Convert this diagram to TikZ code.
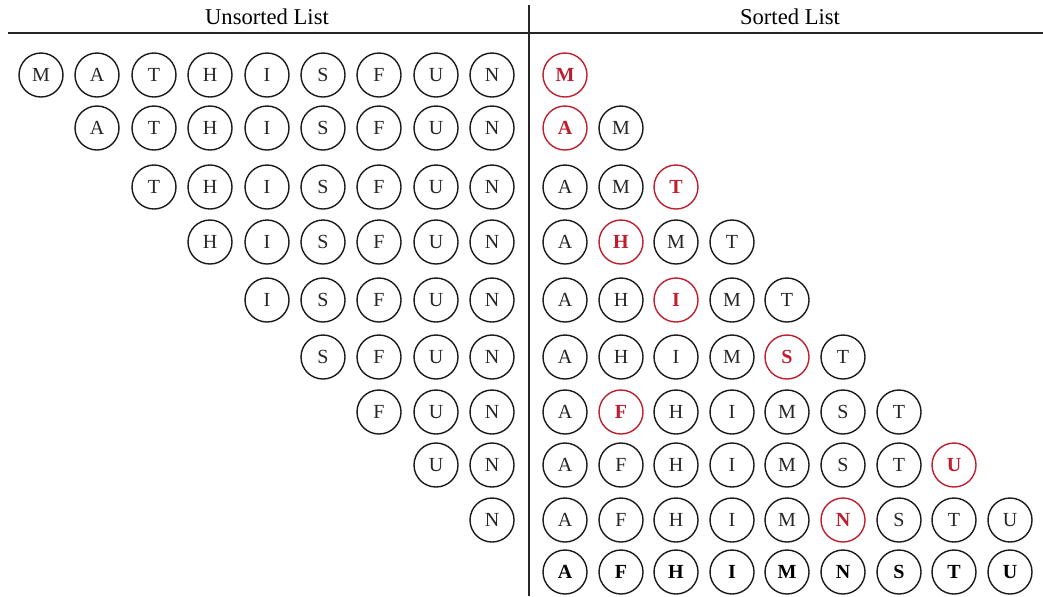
\documentclass[tikz,border=0pt]{standalone}
\usepackage{fontspec}
\setmainfont{Liberation Serif}
\usepackage{tikz}
\definecolor{pickred}{RGB}{190,30,45}

\begin{document}
\begin{tikzpicture}[x=0.5pt,y=-0.5pt,
  letter/.style={circle,draw=black!90,text=black!85,line width=0.7pt,minimum size=22pt,inner sep=0pt,font=\fontsize{10}{12}\selectfont},
  picked/.style={letter,draw=pickred,text=pickred,font=\fontsize{10}{12}\selectfont\bfseries},
  final/.style={letter,text=black,font=\fontsize{10}{12}\selectfont\bfseries},
  head/.style={font=\fontsize{11.3}{13}\selectfont},
  rule/.style={draw=black!85,line width=0.8pt}]
\useasboundingbox (0,0) rectangle (1043,596);
% headings and rules
\node[head] (h-unsorted) at (267,17) {Unsorted List};
\node[head] (h-sorted) at (790,17) {Sorted List};
\coordinate (rule-l) at (8,33);
\coordinate (rule-r) at (1043,33);
\coordinate (split-t) at (529,5);
\coordinate (split-b) at (529,596);
\draw[rule,line width=1pt] (rule-l) -- (rule-r);
\draw[rule] (split-t) -- (split-b);
% unsorted list
\node[letter] (u1-1) at (41,75) {M};
\node[letter] (u1-2) at (97,75) {A};
\node[letter] (u1-3) at (154,75) {T};
\node[letter] (u1-4) at (210,75) {H};
\node[letter] (u1-5) at (267,75) {I};
\node[letter] (u1-6) at (323,75) {S};
\node[letter] (u1-7) at (379,75) {F};
\node[letter] (u1-8) at (436,75) {U};
\node[letter] (u1-9) at (492,75) {N};
\node[letter] (u2-2) at (97,128) {A};
\node[letter] (u2-3) at (154,128) {T};
\node[letter] (u2-4) at (210,128) {H};
\node[letter] (u2-5) at (267,128) {I};
\node[letter] (u2-6) at (323,128) {S};
\node[letter] (u2-7) at (379,128) {F};
\node[letter] (u2-8) at (436,128) {U};
\node[letter] (u2-9) at (492,128) {N};
\node[letter] (u3-3) at (154,187) {T};
\node[letter] (u3-4) at (210,187) {H};
\node[letter] (u3-5) at (267,187) {I};
\node[letter] (u3-6) at (323,187) {S};
\node[letter] (u3-7) at (379,187) {F};
\node[letter] (u3-8) at (436,187) {U};
\node[letter] (u3-9) at (492,187) {N};
\node[letter] (u4-4) at (210,242) {H};
\node[letter] (u4-5) at (267,242) {I};
\node[letter] (u4-6) at (323,242) {S};
\node[letter] (u4-7) at (379,242) {F};
\node[letter] (u4-8) at (436,242) {U};
\node[letter] (u4-9) at (492,242) {N};
\node[letter] (u5-5) at (267,300) {I};
\node[letter] (u5-6) at (323,300) {S};
\node[letter] (u5-7) at (379,300) {F};
\node[letter] (u5-8) at (436,300) {U};
\node[letter] (u5-9) at (492,300) {N};
\node[letter] (u6-6) at (323,357) {S};
\node[letter] (u6-7) at (379,357) {F};
\node[letter] (u6-8) at (436,357) {U};
\node[letter] (u6-9) at (492,357) {N};
\node[letter] (u7-7) at (379,412) {F};
\node[letter] (u7-8) at (436,412) {U};
\node[letter] (u7-9) at (492,412) {N};
\node[letter] (u8-8) at (436,465) {U};
\node[letter] (u8-9) at (492,465) {N};
\node[letter] (u9-9) at (492,520) {N};
% sorted list
\node[picked] (s1-1) at (565,75) {M};
\node[picked] (s2-1) at (565,128) {A};
\node[letter] (s2-2) at (621,128) {M};
\node[letter] (s3-1) at (565,187) {A};
\node[letter] (s3-2) at (621,187) {M};
\node[picked] (s3-3) at (676,187) {T};
\node[letter] (s4-1) at (565,242) {A};
\node[picked] (s4-2) at (621,242) {H};
\node[letter] (s4-3) at (676,242) {M};
\node[letter] (s4-4) at (732,242) {T};
\node[letter] (s5-1) at (565,300) {A};
\node[letter] (s5-2) at (621,300) {H};
\node[picked] (s5-3) at (676,300) {I};
\node[letter] (s5-4) at (732,300) {M};
\node[letter] (s5-5) at (787,300) {T};
\node[letter] (s6-1) at (565,357) {A};
\node[letter] (s6-2) at (621,357) {H};
\node[letter] (s6-3) at (676,357) {I};
\node[letter] (s6-4) at (732,357) {M};
\node[picked] (s6-5) at (787,357) {S};
\node[letter] (s6-6) at (843,357) {T};
\node[letter] (s7-1) at (565,412) {A};
\node[picked] (s7-2) at (621,412) {F};
\node[letter] (s7-3) at (676,412) {H};
\node[letter] (s7-4) at (732,412) {I};
\node[letter] (s7-5) at (787,412) {M};
\node[letter] (s7-6) at (843,412) {S};
\node[letter] (s7-7) at (899,412) {T};
\node[letter] (s8-1) at (565,465) {A};
\node[letter] (s8-2) at (621,465) {F};
\node[letter] (s8-3) at (676,465) {H};
\node[letter] (s8-4) at (732,465) {I};
\node[letter] (s8-5) at (787,465) {M};
\node[letter] (s8-6) at (843,465) {S};
\node[letter] (s8-7) at (899,465) {T};
\node[picked] (s8-8) at (954,465) {U};
\node[letter] (s9-1) at (565,520) {A};
\node[letter] (s9-2) at (621,520) {F};
\node[letter] (s9-3) at (676,520) {H};
\node[letter] (s9-4) at (732,520) {I};
\node[letter] (s9-5) at (787,520) {M};
\node[picked] (s9-6) at (843,520) {N};
\node[letter] (s9-7) at (899,520) {S};
\node[letter] (s9-8) at (954,520) {T};
\node[letter] (s9-9) at (1010,520) {U};
\node[final] (s10-1) at (565,572) {A};
\node[final] (s10-2) at (621,572) {F};
\node[final] (s10-3) at (676,572) {H};
\node[final] (s10-4) at (732,572) {I};
\node[final] (s10-5) at (787,572) {M};
\node[final] (s10-6) at (843,572) {N};
\node[final] (s10-7) at (899,572) {S};
\node[final] (s10-8) at (954,572) {T};
\node[final] (s10-9) at (1010,572) {U};
\end{tikzpicture}
\end{document}
